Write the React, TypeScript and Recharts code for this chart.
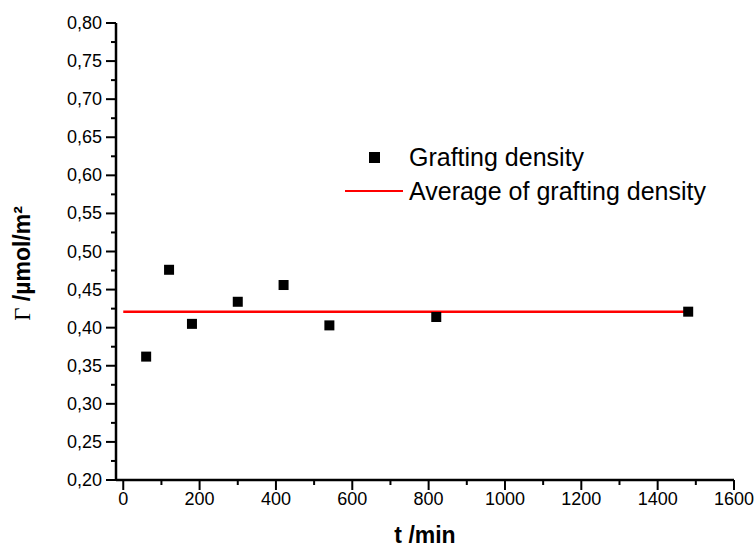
import { ScatterChart, Scatter, XAxis, YAxis, Legend } from "recharts"

const times = [60, 120, 180, 300, 420, 540, 820, 1480]
const density = [0.362, 0.476, 0.405, 0.434, 0.456, 0.403, 0.414, 0.421]
const avgTimes = [0, 1480]
const avgValue = 0.421
const xTicks = [0, 100, 200, 300, 400, 500, 600, 700, 800, 900, 1000, 1100, 1200, 1300, 1400, 1500, 1600]
const yTicks = [
    0.2, 0.225, 0.25, 0.275, 0.3, 0.325, 0.35, 0.375, 0.4, 0.425, 0.45, 0.475, 0.5,
    0.525, 0.55, 0.575, 0.6, 0.625, 0.65, 0.675, 0.7, 0.725, 0.75, 0.775, 0.8,
]

const points = times.map((t, i) => ({ t, g: density[i] }))
const avgLine = avgTimes.map((t) => ({ t, g: avgValue }))

const font = "'Liberation Sans', Arial, sans-serif"

const XTick = (props: any) => {
    const { x, y, payload } = props
    const major = payload.value % 200 === 0
    return (
        <g>
            <line x1={x} x2={x} y1={y} y2={y + (major ? 10 : 5)} stroke="#000" strokeWidth={2} />
            {major && (
                <text x={x} y={y + 25} textAnchor="middle" fontSize={18} fontFamily={font} fill="#000">
                    {payload.value}
                </text>
            )}
        </g>
    )
}

const YTick = (props: any) => {
    const { x, y, payload } = props
    const major = Math.round(payload.value * 1000) % 50 === 0
    return (
        <g>
            <line x1={x} x2={x - (major ? 10 : 5)} y1={y} y2={y} stroke="#000" strokeWidth={2} />
            {major && (
                <text x={x - 14} y={y + 6} textAnchor="end" fontSize={18} fontFamily={font} fill="#000">
                    {payload.value.toFixed(2).replace(".", ",")}
                </text>
            )}
        </g>
    )
}

const Square = (props: any) => {
    const { cx, cy } = props
    return <rect x={cx - 5} y={cy - 5} width={10} height={10} fill="#000" />
}

const LegendBox = () => (
    <div style={{ fontFamily: font, fontSize: 25, color: "#000", lineHeight: "34px" }}>
        <div style={{ display: "flex", alignItems: "center" }}>
            <div style={{ width: 58, display: "flex", justifyContent: "center" }}>
                <div style={{ width: 11, height: 11, background: "#000" }} />
            </div>
            <span style={{ marginLeft: 6 }}>Grafting density</span>
        </div>
        <div style={{ display: "flex", alignItems: "center" }}>
            <div style={{ width: 58, height: 2.5, background: "#ff0000" }} />
            <span style={{ marginLeft: 6 }}>Average of grafting density</span>
        </div>
    </div>
)

export default function App() {
    return (
        <div style={{ position: "absolute", left: 0, top: 0, background: "#fff" }}>
            <ScatterChart width={756} height={550} margin={{ top: 23, right: 22, left: 56, bottom: 30 }}>
                <XAxis
                    type="number"
                    dataKey="t"
                    domain={[-19, 1600]}
                    ticks={xTicks}
                    interval={0}
                    height={40}
                    tickSize={0}
                    tickMargin={0}
                    tickLine={false}
                    axisLine={{ stroke: "#000", strokeWidth: 2.5 }}
                    tick={<XTick />}
                    label={{
                        content: (p: any) => {
                            const vb = p.viewBox
                            return (
                                <text
                                    x={vb.x + vb.width / 2}
                                    y={vb.y + 63}
                                    textAnchor="middle"
                                    fontFamily={font}
                                    fontSize={23}
                                    fontWeight="bold"
                                    fill="#000"
                                >
                                    t /min
                                </text>
                            )
                        },
                    }}
                />
                <YAxis
                    type="number"
                    dataKey="g"
                    domain={[0.2, 0.8]}
                    ticks={yTicks}
                    interval={0}
                    width={60}
                    tickSize={0}
                    tickMargin={0}
                    tickLine={false}
                    axisLine={{ stroke: "#000", strokeWidth: 2.5 }}
                    tick={<YTick />}
                    label={{
                        content: (p: any) => {
                            const vb = p.viewBox
                            const cx = 30
                            const cy = vb.y + vb.height / 2 + 12
                            return (
                                <text transform={`translate(${cx},${cy}) rotate(-90)`} textAnchor="middle" fill="#000" fontSize={23}>
                                    <tspan fontFamily="'Liberation Serif', serif">Γ</tspan>
                                    <tspan fontFamily={font} fontWeight="bold"> /µmol/m²</tspan>
                                </text>
                            )
                        },
                    }}
                />
                <Legend
                    layout="vertical"
                    align="center"
                    verticalAlign="middle"
                    content={<LegendBox />}
                    wrapperStyle={{ left: 345, top: 140, width: "auto" }}
                />
                <Scatter
                    data={avgLine}
                    line={{ stroke: "#ff0000", strokeWidth: 2.5 }}
                    shape={() => <g />}
                    isAnimationActive={false}
                    legendType="none"
                />
                <Scatter data={points} shape={<Square />} isAnimationActive={false} />
            </ScatterChart>
        </div>
    )
}
